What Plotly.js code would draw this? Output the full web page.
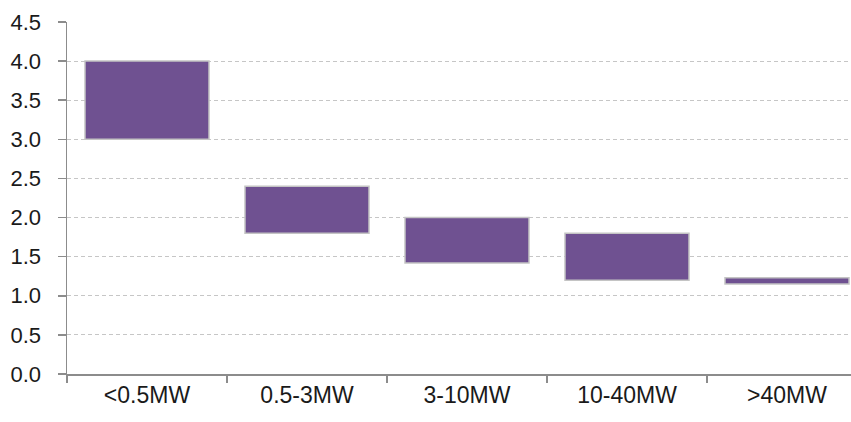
<!DOCTYPE html>
<html>
<head>
<meta charset="utf-8">
<script src="https://cdn.plot.ly/plotly-3.0.1.min.js"></script>
<style>html,body{margin:0;padding:0;background:#fff;}#chart{width:851px;height:422px;}</style>
</head>
<body>
<div id="chart"></div>
<script>
const categories = ["<0.5MW", "0.5-3MW", "3-10MW", "10-40MW", ">40MW"];
const lowValues = [3.0, 1.8, 1.42, 1.2, 1.15];
const highValues = [4.0, 2.4, 2.0, 1.8, 1.23];
const yTickValues = [0, 0.5, 1, 1.5, 2, 2.5, 3, 3.5, 4, 4.5];
const yTickLabels = ["0.0", "0.5", "1.0", "1.5", "2.0", "2.5", "3.0", "3.5", "4.0", "4.5"];

const spans = highValues.map((h, i) => h - lowValues[i]);

const trace = {
  type: "bar",
  x: categories,
  y: spans,
  base: lowValues,
  marker: { color: "#6f5191", line: { color: "#c4c4c4", width: 1.5 } },
  width: 0.775,
  hoverinfo: "skip"
};

const layout = {
  width: 851,
  height: 422,
  margin: { l: 67, r: 0, t: 22, b: 48 },
  paper_bgcolor: "#fff",
  plot_bgcolor: "#fff",
  showlegend: false,
  font: { family: "Liberation Sans, Arial, sans-serif", size: 22, color: "#1a1a1a" },
  xaxis: {
    type: "category",
    range: [-0.5, 4.4],
    showgrid: false,
    showline: true,
    linecolor: "#8c8c8c",
    linewidth: 1.5,
    ticks: "outside",
    tickson: "boundaries",
    ticklen: 7,
    tickcolor: "#8c8c8c",
    tickwidth: 1.5,
    ticklabelstandoff: 0,
    tickfont: { size: 23 },
    zeroline: false
  },
  yaxis: {
    range: [0, 4.5],
    tickvals: yTickValues,
    ticktext: yTickLabels,
    tickfont: { size: 22 },
    showgrid: true,
    gridcolor: "#c6c6c6",
    griddash: "4px,3px",
    gridwidth: 1,
    showline: true,
    linecolor: "#8c8c8c",
    linewidth: 1.5,
    ticks: "outside",
    ticklen: 8,
    tickcolor: "#8c8c8c",
    tickwidth: 1.5,
    ticklabelstandoff: 12,
    zeroline: false
  }
};

Plotly.newPlot("chart", [trace], layout, { displayModeBar: false, staticPlot: true });
</script>
</body>
</html>
